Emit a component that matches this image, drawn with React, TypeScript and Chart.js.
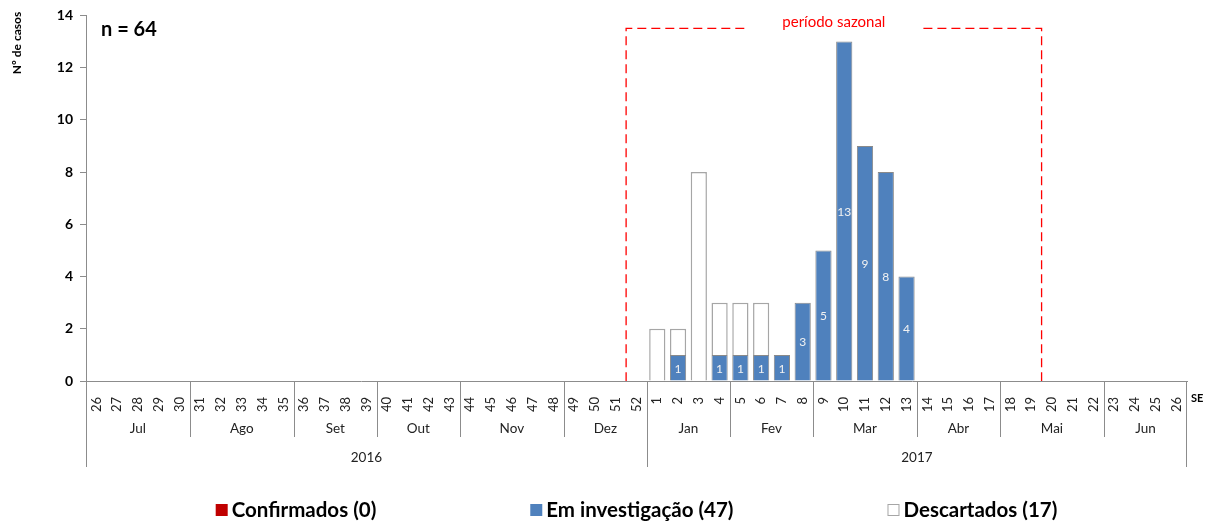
import React, { useEffect, useRef } from "react";
import { Chart, registerables } from "chart.js";

Chart.register(...registerables);

const weekLabels = [
  "26", "27", "28", "29", "30", "31", "32", "33", "34", "35", "36", "37", "38", "39",
  "40", "41", "42", "43", "44", "45", "46", "47", "48", "49", "50", "51", "52",
  "1", "2", "3", "4", "5", "6", "7", "8", "9", "10", "11", "12", "13",
  "14", "15", "16", "17", "18", "19", "20", "21", "22", "23", "24", "25", "26",
];

const months = ["Jul", "Ago", "Set", "Out", "Nov", "Dez", "Jan", "Fev", "Mar", "Abr", "Mai", "Jun"];
const monthWeekCounts = [5, 5, 4, 4, 5, 4, 4, 4, 5, 4, 5, 4];
const years = ["2016", "2017"];
const yearWeekCounts = [27, 26];

const confirmados = [
  0, 0, 0, 0, 0, 0, 0, 0, 0, 0, 0, 0, 0, 0, 0, 0, 0, 0, 0, 0, 0, 0, 0, 0, 0, 0, 0,
  0, 0, 0, 0, 0, 0, 0, 0, 0, 0, 0, 0, 0, 0, 0, 0, 0, 0, 0, 0, 0, 0, 0, 0, 0, 0,
];
const investigacao = [
  0, 0, 0, 0, 0, 0, 0, 0, 0, 0, 0, 0, 0, 0, 0, 0, 0, 0, 0, 0, 0, 0, 0, 0, 0, 0, 0,
  0, 1, 0, 1, 1, 1, 1, 3, 5, 13, 9, 8, 4, 0, 0, 0, 0, 0, 0, 0, 0, 0, 0, 0, 0, 0,
];
const descartados = [
  0, 0, 0, 0, 0, 0, 0, 0, 0, 0, 0, 0, 0, 0, 0, 0, 0, 0, 0, 0, 0, 0, 0, 0, 0, 0, 0,
  2, 1, 8, 2, 2, 2, 0, 0, 0, 0, 0, 0, 0, 0, 0, 0, 0, 0, 0, 0, 0, 0, 0, 0, 0, 0,
];

const seriesNames = ["Confirmados", "Em investigação", "Descartados"];
const totalCases = 64;
const seasonLabel = "período sazonal";
const seasonStartIndex = 26; // week 52 (2016)
const seasonEndIndex = 45; // week 19 (2017)
const seasonTopValue = 13.5;

const yTicks = [0, 2, 4, 6, 8, 10, 12, 14];

const FONT = "Lato, 'Open Sans', sans-serif";
const AXIS_COLOR = "#8c8c8c";

const sum = (a: number[]) => a.reduce((s, v) => s + v, 0);

const overlayPlugin = {
  id: "overlay",
  afterDraw(chart: any) {
    const { ctx, chartArea, scales } = chart;
    const x = scales.x;
    const y = scales.y;
    const half = (x.getPixelForValue(1) - x.getPixelForValue(0)) / 2;
    const leftOf = (i: number) => x.getPixelForValue(i) - half;
    const rightOf = (i: number) => x.getPixelForValue(i) + half;
    const base = chartArea.bottom;

    ctx.save();

    // data labels for "Em investigação"
    const meta = chart.getDatasetMeta(1);
    ctx.fillStyle = "#f2f2f2";
    ctx.font = `12px ${FONT}`;
    ctx.textAlign = "center";
    ctx.textBaseline = "middle";
    meta.data.forEach((bar: any, i: number) => {
      const v = investigacao[i];
      if (!v) return;
      ctx.fillText(String(v), bar.x, (bar.y + bar.base) / 2 + 1);
    });

    // month row & year row separators
    ctx.strokeStyle = AXIS_COLOR;
    ctx.lineWidth = 1;
    let idx = 0;
    ctx.fillStyle = "#222";
    ctx.font = `13.5px ${FONT}`;
    months.forEach((m, k) => {
      const start = idx;
      const end = idx + monthWeekCounts[k] - 1;
      const xl = Math.round(leftOf(start)) + 0.5;
      ctx.beginPath();
      ctx.moveTo(xl, base);
      ctx.lineTo(xl, base + 56);
      ctx.stroke();
      ctx.fillText(m, (leftOf(start) + rightOf(end)) / 2, base + 48);
      idx = end + 1;
    });
    idx = 0;
    ctx.font = `13.5px ${FONT}`;
    years.forEach((yr, k) => {
      const start = idx;
      const end = idx + yearWeekCounts[k] - 1;
      const xl = Math.round(leftOf(start)) + 0.5;
      ctx.beginPath();
      ctx.moveTo(xl, base);
      ctx.lineTo(xl, base + 86);
      ctx.stroke();
      ctx.fillText(yr, (leftOf(start) + rightOf(end)) / 2, base + 77);
      idx = end + 1;
    });
    const xr = Math.round(rightOf(weekLabels.length - 1)) - 0.5;
    ctx.beginPath();
    ctx.moveTo(xr, base);
    ctx.lineTo(xr, base + 86);
    ctx.stroke();

    // SE label
    ctx.font = `bold 11px ${FONT}`;
    ctx.textAlign = "left";
    ctx.fillStyle = "#000";
    ctx.fillText("SE", chartArea.right + 4, base + 17);

    // y title
    ctx.save();
    ctx.translate(17, 43);
    ctx.rotate(-Math.PI / 2);
    ctx.font = `bold 12px ${FONT}`;
    ctx.textAlign = "center";
    ctx.fillText("Nº de casos", 0, 0);
    ctx.restore();

    // n = 64
    ctx.font = `bold 20px ${FONT}`;
    ctx.textAlign = "left";
    ctx.fillStyle = "#000";
    ctx.fillText(`n = ${totalCases}`, chartArea.left + 15, 30);

    // seasonal dashed box
    const sl = leftOf(seasonStartIndex);
    const sr = rightOf(seasonEndIndex);
    const st = y.getPixelForValue(seasonTopValue);
    const sc = (sl + sr) / 2;
    ctx.font = `15px ${FONT}`;
    const tw = ctx.measureText(seasonLabel).width;
    ctx.strokeStyle = "#ff0000";
    ctx.lineWidth = 1.3;
    ctx.setLineDash([9, 5]);
    ctx.beginPath();
    ctx.moveTo(sc - tw / 2 - 38, st);
    ctx.lineTo(sl, st);
    ctx.lineTo(sl, base);
    ctx.stroke();
    ctx.beginPath();
    ctx.moveTo(sc + tw / 2 + 38, st);
    ctx.lineTo(sr, st);
    ctx.lineTo(sr, base);
    ctx.stroke();
    ctx.setLineDash([]);
    ctx.fillStyle = "#ff0000";
    ctx.textAlign = "center";
    ctx.fillText(seasonLabel, sc, st - 6);

    // legend
    const counts = [sum(confirmados), sum(investigacao), sum(descartados)];
    const colors = chart.data.datasets.map((d: any) => d.backgroundColor);
    const borders = chart.data.datasets.map((d: any) => d.borderColor);
    ctx.font = `bold 20.5px ${FONT}`;
    const texts = seriesNames.map((n, i) => `${n} (${counts[i]})`);
    const box = 12;
    const gapBox = 4;
    const gap = 154;
    const widths = texts.map((t) => box + gapBox + ctx.measureText(t).width);
    const total = sum(widths) + gap * (texts.length - 1);
    let lx = (chartArea.left + chartArea.right) / 2 - total / 2;
    const ly = 510;
    texts.forEach((t, i) => {
      ctx.fillStyle = colors[i];
      ctx.fillRect(lx, ly - 6, box, box);
      if (i === 2) {
        ctx.strokeStyle = borders[i];
        ctx.lineWidth = 1;
        ctx.strokeRect(lx + 0.5, ly - 5.5, box - 1, box - 1);
      }
      ctx.fillStyle = "#000";
      ctx.textAlign = "left";
      ctx.textBaseline = "middle";
      ctx.fillText(t, lx + box + gapBox, ly);
      lx += widths[i] + gap;
    });

    ctx.restore();
  },
};

export default function App() {
  const ref = useRef<HTMLCanvasElement | null>(null);

  useEffect(() => {
    document.body.style.margin = "0";
    if (!ref.current) return;
    const toNull = (a: number[]) => a.map((v) => (v === 0 ? null : v));
    const chart = new Chart(ref.current, {
      type: "bar",
      data: {
        labels: weekLabels,
        datasets: [
          {
            label: seriesNames[0],
            data: toNull(confirmados) as any,
            backgroundColor: "#c00000",
            borderColor: "#8c8c8c",
            borderWidth: 1,
          },
          {
            label: seriesNames[1],
            data: toNull(investigacao) as any,
            backgroundColor: "#4f81bd",
            borderColor: "#8a8a8a",
            borderWidth: 1,
          },
          {
            label: seriesNames[2],
            data: toNull(descartados) as any,
            backgroundColor: "#ffffff",
            borderColor: "#a6a6a6",
            borderWidth: 1.5,
          },
        ],
      },
      options: {
        animation: false,
        responsive: true,
        maintainAspectRatio: false,
        layout: { padding: { top: 13, right: 19, left: 0, bottom: 0 } },
        datasets: { bar: { categoryPercentage: 1, barPercentage: 0.78 } },
        plugins: {
          legend: { display: false },
          tooltip: { enabled: false },
        },
        scales: {
          x: {
            stacked: true,
            grid: { display: false },
            border: { display: true, color: AXIS_COLOR, width: 1 },
            ticks: {
              autoSkip: false,
              maxRotation: 90,
              minRotation: 90,
              padding: 8,
              color: "#222",
              font: { family: FONT, size: 13 },
            },
            afterFit: (s: any) => {
              s.height = 143;
            },
          },
          y: {
            stacked: true,
            min: 0,
            max: 14,
            afterBuildTicks: (s: any) => {
              s.ticks = yTicks.map((v) => ({ value: v }));
            },
            grid: {
              display: true,
              drawOnChartArea: false,
              drawTicks: true,
              tickLength: 6,
              color: AXIS_COLOR,
            },
            border: { display: true, color: AXIS_COLOR, width: 1 },
            ticks: {
              padding: 7,
              color: "#000",
              font: { family: FONT, size: 14, weight: "bold" },
            },
            afterFit: (s: any) => {
              s.width = 86;
            },
          },
        },
      },
      plugins: [overlayPlugin],
    });
    return () => chart.destroy();
  }, []);

  return (
    <div style={{ width: 1206, height: 524, position: "relative" }}>
      <canvas ref={ref} />
    </div>
  );
}
